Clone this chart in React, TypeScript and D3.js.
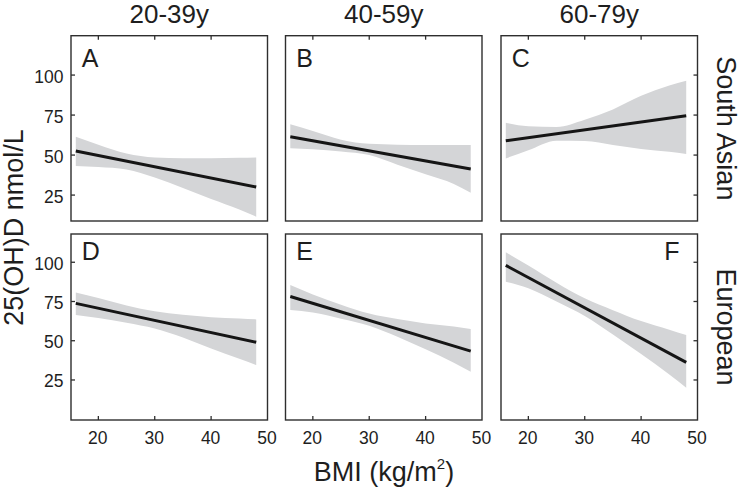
import React from "react";
import * as d3 from "d3";

// ---- data ----
const ageGroups = ["20-39y", "40-59y", "60-79y"];
const ethnicities = ["South Asian", "European"];
const panelLabels = ["A", "B", "C", "D", "E", "F"];

const bandBmi = [16, 20, 25, 30, 35, 40, 45, 48];
const fitBmi = [16, 48];

const fitA = [52.5, 30];
const lowerA = [43.1, 42.5, 41, 36, 29.5, 22.5, 16, 11.5];
const upperA = [61.4, 56.5, 51, 48.5, 48, 48, 48.3, 48.5];

const fitB = [61.5, 41.25];
const lowerB = [54.2, 53.6, 52.3, 50, 44, 38, 32, 26.4];
const upperB = [69.2, 65, 59.6, 57, 56.5, 56.3, 56.3, 56.3];

const fitC = [58.9, 74.6];
const lowerC = [47.9, 53, 59, 58.8, 56.3, 53.8, 52, 50.6];
const upperC = [70.2, 68, 67.5, 72, 78.5, 87, 93.5, 96.5];

const fitD = [73.8, 49];
const lowerD = [66.4, 64.5, 61.5, 57.8, 52, 45, 38.5, 34.5];
const upperD = [80.8, 77.2, 72.5, 68.8, 66.5, 65, 64.2, 63.6];

const fitE = [78.2, 43.4];
const lowerE = [69.6, 68, 64, 59.5, 52.5, 44.5, 36, 30.3];
const upperE = [85.5, 79.5, 73, 67.3, 63.8, 61, 59, 57.5];

const fitF = [98, 36.2];
const lowerF = [87.6, 83.5, 75, 65.8, 54, 41.5, 28.5, 20.1];
const upperF = [106.3, 98, 87, 77, 69.5, 62.5, 57, 53.6];

const fits = [fitA, fitB, fitC, fitD, fitE, fitF];
const lowers = [lowerA, lowerB, lowerC, lowerD, lowerE, lowerF];
const uppers = [upperA, upperB, upperC, upperD, upperE, upperF];

const yTicks = [25, 50, 75, 100];
const xTicks = [20, 30, 40];
const xTickLabels = [20, 30, 40, 50];

// ---- layout ----
const colLeft = [71, 285.5, 501];
const panelW = 196.5;
const rowTop = [35.7, 234];
const rowBottom = [221, 420];
const rowDomains: [number, number][] = [
  [8.8, 124.6],
  [-0.5, 118],
];
const xDomain: [number, number] = [15.15, 50];

const FONT = "'Liberation Sans', Arial, Helvetica, sans-serif";
const TEXT = "#1e1e1e";
const BORDER = "#2e2e2e";

export default function App() {
  const panels: React.ReactNode[] = [];
  for (let r = 0; r < 2; r++) {
    for (let c = 0; c < 3; c++) {
      const i = r * 3 + c;
      const left = colLeft[c];
      const right = left + panelW;
      const top = rowTop[r];
      const bottom = rowBottom[r];
      const x = d3.scaleLinear().domain(xDomain).range([left, right]);
      const y = d3.scaleLinear().domain(rowDomains[r]).range([bottom, top]);
      const bandData = bandBmi.map((b, k) => ({ b, lo: lowers[i][k], hi: uppers[i][k] }));
      const area = d3
        .area<{ b: number; lo: number; hi: number }>()
        .x((d) => x(d.b))
        .y0((d) => y(d.lo))
        .y1((d) => y(d.hi))
        .curve(d3.curveMonotoneX);
      const line = d3
        .line<number>()
        .x((_, k) => x(fitBmi[k]))
        .y((d) => y(d));
      const letterRight = c === 2 && r === 1;
      panels.push(
        <g key={i}>
          <path d={area(bandData) || ""} fill="#d4d5d7" />
          <path d={line(fits[i]) || ""} fill="none" stroke="#151515" strokeWidth={3} />
          <rect x={left} y={top} width={panelW} height={bottom - top} fill="none" stroke={BORDER} strokeWidth={1.4} />
          {c === 0 &&
            yTicks.map((t) => (
              <g key={"yl" + t}>
                <line x1={left} x2={left + 4} y1={y(t)} y2={y(t)} stroke={BORDER} strokeWidth={1.3} />
                <text x={left - 7.5} y={y(t) + 7.5} textAnchor="end" fontSize={17.5} fill={TEXT} fontFamily={FONT}>
                  {t}
                </text>
              </g>
            ))}
          {c === 2 &&
            yTicks.map((t) => (
              <line key={"yr" + t} x1={right - 4} x2={right} y1={y(t)} y2={y(t)} stroke={BORDER} strokeWidth={1.3} />
            ))}
          {r === 0 &&
            xTicks.map((t) => (
              <line key={"xt" + t} x1={x(t)} x2={x(t)} y1={top} y2={top + 4} stroke={BORDER} strokeWidth={1.3} />
            ))}
          {r === 1 &&
            xTicks.map((t) => (
              <line key={"xb" + t} x1={x(t)} x2={x(t)} y1={bottom - 4} y2={bottom} stroke={BORDER} strokeWidth={1.3} />
            ))}
          {r === 1 &&
            xTickLabels.map((t) => (
              <text key={"xl" + t} x={x(t) - 0.5} y={bottom + 23.5} textAnchor="middle" fontSize={17.5} fill={TEXT} fontFamily={FONT}>
                {t}
              </text>
            ))}
          <text
            x={letterRight ? right - 18 : left + 10.7}
            y={top + (r === 0 ? 31.6 : 26)}
            textAnchor={letterRight ? "end" : "start"}
            fontSize={25}
            fill={TEXT}
            fontFamily={FONT}
          >
            {panelLabels[i]}
          </text>
        </g>
      );
    }
  }

  return (
    <svg width={740} height={487} style={{ position: "absolute", left: 0, top: 0, background: "#fff" }}>
      <rect x={0} y={0} width={740} height={487} fill="#fff" />
      {ageGroups.map((a, c) => (
        <text key={a} x={colLeft[c] + panelW / 2} y={23} textAnchor="middle" fontSize={26} fill={TEXT} fontFamily={FONT}>
          {a}
        </text>
      ))}
      {ethnicities.map((e, r) => (
        <text
          key={e}
          transform={`translate(717, ${(rowTop[r] + rowBottom[r]) / 2}) rotate(90)`}
          textAnchor="middle"
          fontSize={27}
          fill={TEXT}
          fontFamily={FONT}
        >
          {e}
        </text>
      ))}
      <text transform="translate(23, 227.5) rotate(-90)" textAnchor="middle" fontSize={27} fill={TEXT} fontFamily={FONT}>
        25(OH)D nmol/L
      </text>
      <text x={384} y={480.5} textAnchor="middle" fontSize={27} fill={TEXT} fontFamily={FONT}>
        BMI (kg/m
        <tspan fontSize={15} dy={-12}>2</tspan>
        <tspan dy={12}>)</tspan>
      </text>
      {panels}
    </svg>
  );
}
